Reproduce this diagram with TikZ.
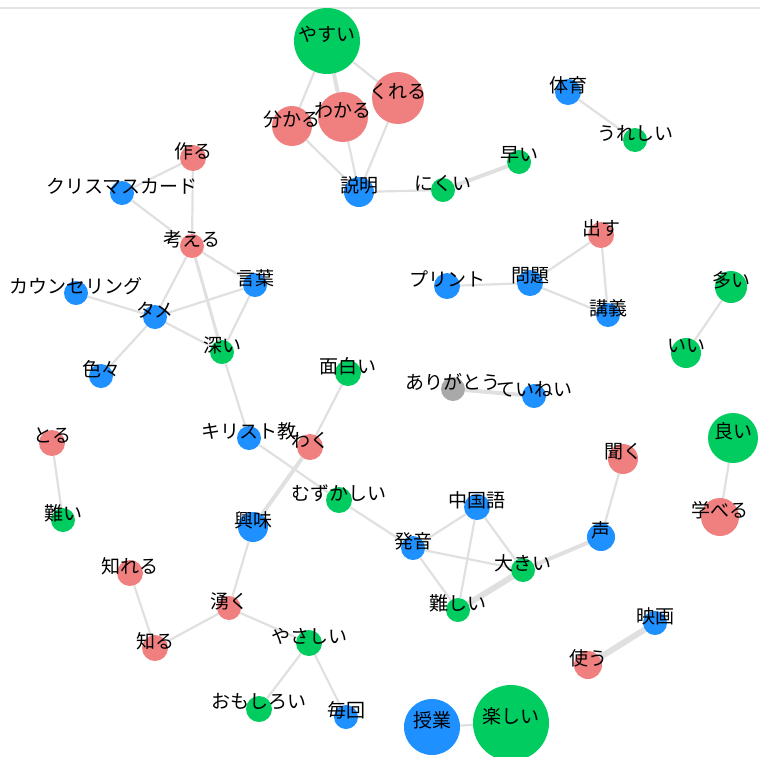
\documentclass[tikz,border=0pt]{standalone}
\usepackage{fontspec}
\setmainfont{Noto Sans CJK JP}
\usetikzlibrary{backgrounds}
\pgfdeclarelayer{fg}
\pgfsetlayers{background,main,fg}
\definecolor{nred}{RGB}{240,128,128}
\definecolor{ngreen}{RGB}{0,204,96}
\definecolor{nblue}{RGB}{30,144,255}
\definecolor{ngray}{RGB}{169,169,169}
\definecolor{ecol}{RGB}{224,224,224}
\definecolor{topline}{RGB}{228,228,228}
\tikzset{
  wnode/.style={circle, inner sep=0pt, draw=none},
  wlbl/.style={inner sep=0pt, font=\fontsize{19}{19}\selectfont, text=black},
  lnk/.style={draw=ecol, line width=2.2pt},
  lnkb/.style={draw=ecol, line width=4pt},
  lnkc/.style={draw=ecol, line width=6pt}
}
\newcommand\wn[6]{%
  \node[wnode, minimum size={2*#4pt}, fill=#5] (#1) at (#2,#3) {};
  \begin{pgfonlayer}{fg}\node[wlbl] (#1-t) at ([yshift=7pt]#1) {#6};\end{pgfonlayer}}
\begin{document}
\begin{tikzpicture}[x=1pt,y=-1pt]
\useasboundingbox (0,0) rectangle (760,756);
\coordinate (tl) at (0,8);
\coordinate (tr) at (760,8);
\draw[topline, line width=1.5pt] (tl) -- (tr);
% nodes
\wn{yasui}{327}{41}{33}{ngreen}{やすい}
\wn{wakaru1}{292}{126}{20}{nred}{分かる}
\wn{wakaru2}{343}{117}{25}{nred}{わかる}
\wn{kureru}{398}{98}{26}{nred}{くれる}
\wn{setsumei}{359}{192}{15}{nblue}{説明}
\wn{nikui}{443}{190}{12}{ngreen}{にくい}
\wn{hayai}{519}{162}{12}{ngreen}{早い}
\wn{taiiku}{568}{92}{13}{nblue}{体育}
\wn{ureshii}{635}{140}{12}{ngreen}{うれしい}
\wn{tsukuru}{193}{158}{13}{nred}{作る}
\wn{xmas}{122}{193}{12}{nblue}{クリスマスカード}
\wn{kangaeru}{192}{246}{12}{nred}{考える}
\wn{kotoba}{255}{285}{12}{nblue}{言葉}
\wn{counsel}{76}{293}{12}{nblue}{カウンセリング}
\wn{tame}{155}{317}{12}{nblue}{タメ}
\wn{fukai}{222}{352}{12}{ngreen}{深い}
\wn{iroiro}{101}{376}{12}{nblue}{色々}
\wn{omoshiroi1}{348}{373}{13}{ngreen}{面白い}
\wn{arigatou}{453}{389}{12}{ngray}{ありがとう}
\wn{teinei}{534}{396}{12}{nblue}{ていねい}
\wn{dasu}{601}{235}{13}{nred}{出す}
\wn{print}{447}{286}{13}{nblue}{プリント}
\wn{mondai}{530}{283}{13}{nblue}{問題}
\wn{kougi}{608}{315}{12}{nblue}{講義}
\wn{ooi}{731}{287}{16}{ngreen}{多い}
\wn{ii}{686}{353}{15}{ngreen}{いい}
\wn{yoi}{733}{438}{25}{ngreen}{良い}
\wn{kiku}{623}{459}{15}{nred}{聞く}
\wn{manaberu}{720}{517}{19}{nred}{学べる}
\wn{toru}{52}{443}{13}{nred}{とる}
\wn{katai}{63}{520}{12}{ngreen}{難い}
\wn{kirisuto}{249}{438}{12}{nblue}{キリスト教}
\wn{waku}{310}{447}{13}{nred}{わく}
\wn{muzukashii}{339}{500}{13}{ngreen}{むずかしい}
\wn{kyoumi}{253}{527}{15}{nblue}{興味}
\wn{chugokugo}{477}{507}{13}{nblue}{中国語}
\wn{koe}{601}{537}{14}{nblue}{声}
\wn{hatsuon}{413}{548}{12}{nblue}{発音}
\wn{ookii}{523}{570}{12}{ngreen}{大きい}
\wn{muzukashii2}{458}{610}{12}{ngreen}{難しい}
\wn{shireru}{130}{573}{13}{nred}{知れる}
\wn{waku2}{229}{608}{12}{nred}{湧く}
\wn{shiru}{155}{648}{13}{nred}{知る}
\wn{yasashii}{309}{643}{13}{ngreen}{やさしい}
\wn{omoshiroi2}{259}{709}{13}{ngreen}{おもしろい}
\wn{maikai}{346}{717}{12}{nblue}{毎回}
\wn{eiga}{655}{623}{12}{nblue}{映画}
\wn{tsukau}{588}{665}{14}{nred}{使う}
\wn{jugyou}{432}{727}{28}{nblue}{授業}
\wn{tanoshii}{511}{723}{38}{ngreen}{楽しい}
% edges
\begin{pgfonlayer}{background}
\draw[lnk] (yasui) -- (wakaru1);
\draw[lnkb] (yasui) -- (wakaru2);
\draw[lnk] (yasui) -- (kureru);
\draw[lnk] (wakaru1) -- (setsumei);
\draw[lnk] (wakaru2) -- (setsumei);
\draw[lnk] (kureru) -- (setsumei);
\draw[lnk] (setsumei) -- (nikui);
\draw[lnkb] (nikui) -- (hayai);
\draw[lnk] (taiiku) -- (ureshii);
\draw[lnk] (tsukuru) -- (xmas);
\draw[lnk] (tsukuru) -- (kangaeru);
\draw[lnk] (xmas) -- (kangaeru);
\draw[lnk] (kangaeru) -- (kotoba);
\draw[lnk] (kangaeru) -- (tame);
\draw[line width=3pt, draw=ecol] (kangaeru) -- (fukai);
\draw[lnk] (counsel) -- (tame);
\draw[lnk] (tame) -- (kotoba);
\draw[lnk] (tame) -- (fukai);
\draw[lnk] (tame) -- (iroiro);
\draw[lnk] (kotoba) -- (fukai);
\draw[lnk] (fukai) -- (kirisuto);
\draw[lnk] (omoshiroi1) -- (waku);
\draw[lnkb] (waku) -- (kyoumi);
\draw[lnk] (kirisuto) -- (muzukashii);
\draw[lnk] (muzukashii) -- (hatsuon);
\draw[lnkb] (arigatou) -- (teinei);
\draw[lnk] (dasu) -- (mondai);
\draw[lnk] (dasu) -- (kougi);
\draw[lnk] (print) -- (mondai);
\draw[lnk] (mondai) -- (kougi);
\draw[lnk] (ooi) -- (ii);
\draw[lnk] (yoi) -- (manaberu);
\draw[lnk] (kiku) -- (koe);
\draw[lnkb] (koe) -- (ookii);
\draw[lnk] (chugokugo) -- (hatsuon);
\draw[lnk] (chugokugo) -- (ookii);
\draw[lnk] (chugokugo) -- (muzukashii2);
\draw[lnk] (hatsuon) -- (ookii);
\draw[lnk] (hatsuon) -- (muzukashii2);
\draw[lnkc] (ookii) -- (muzukashii2);
\draw[lnk] (toru) -- (katai);
\draw[lnk] (shireru) -- (shiru);
\draw[lnk] (shiru) -- (waku2);
\draw[lnk] (waku2) -- (kyoumi);
\draw[lnk] (waku2) -- (yasashii);
\draw[lnk] (yasashii) -- (omoshiroi2);
\draw[lnk] (yasashii) -- (maikai);
\draw[lnkc] (eiga) -- (tsukau);
\draw[lnk] (jugyou) -- (tanoshii);
\end{pgfonlayer}
\end{tikzpicture}
\end{document}
